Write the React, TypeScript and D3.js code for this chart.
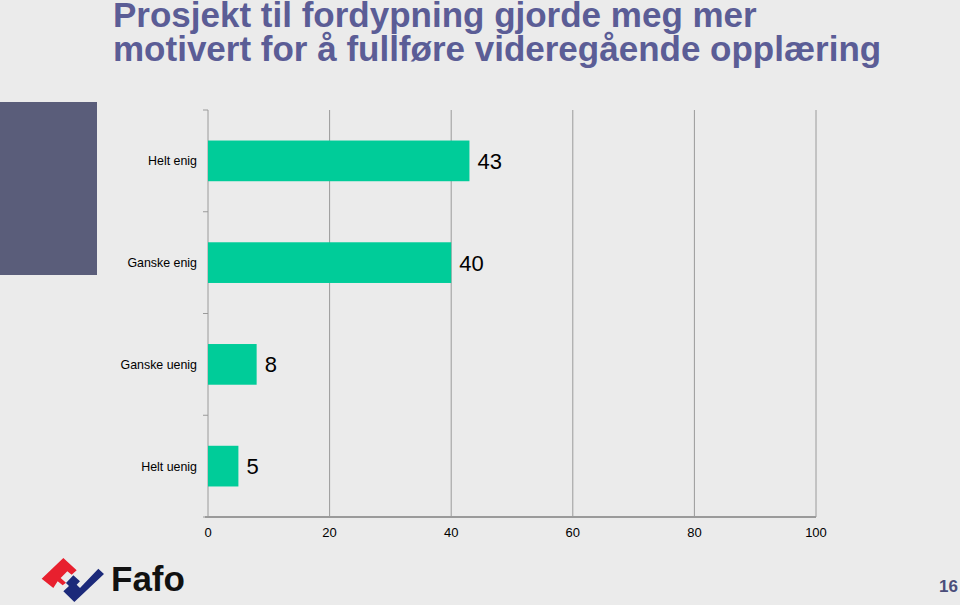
import React from "react";
import * as d3 from "d3";

const categories = ["Helt enig", "Ganske enig", "Ganske uenig", "Helt uenig"];
const values = [43, 40, 8, 5];
const xTicks = [0, 20, 40, 60, 80, 100];
const titleLines = ["Prosjekt til fordypning gjorde meg mer", "motivert for å fullføre videregående opplæring"];

const W = 960, H = 605;
const left = 208, right = 816, top = 110, bottom = 517;

export default function App() {
  const x = d3.scaleLinear().domain([0, 100]).range([left, right]);
  const y = d3.scaleBand().domain(categories).range([top, bottom]).paddingInner(0.6).paddingOuter(0.3);
  const bandEdges = d3.range(categories.length + 1).map(i => top + (i * (bottom - top)) / categories.length);
  const font = "'Liberation Sans', Arial, sans-serif";
  return (
    <svg width={W} height={H} style={{ position: "absolute", left: 0, top: 0 }} fontFamily={font}>
      <rect width={W} height={H} fill="#ebebeb" />
      <rect x={0} y={102} width={97} height={173} fill="#5a5d7a" />
      {titleLines.map((t, i) => (
        <text key={i} x={113} y={27 + i * 34} fontSize={35} fontWeight="bold" fill="#5b5d96">{t}</text>
      ))}
      {xTicks.slice(1).map(t => (
        <line key={t} x1={x(t)} x2={x(t)} y1={top} y2={bottom} stroke="#9a9a9a" strokeWidth={1} />
      ))}
      <line x1={left} x2={left} y1={top} y2={bottom} stroke="#9a9a9a" strokeWidth={1} />
      {bandEdges.map((e, i) => (
        <line key={i} x1={left - 5} x2={left} y1={e} y2={e} stroke="#9a9a9a" />
      ))}
      <line x1={left - 3} x2={right} y1={bottom} y2={bottom} stroke="#9a9a9a" strokeWidth={2} />
      {xTicks.map(t => (
        <text key={t} x={x(t)} y={537} fontSize={13} textAnchor="middle" fill="#000">{t}</text>
      ))}
      {categories.map((c, i) => (
        <g key={c}>
          <rect x={x(0)} y={y(c)} width={x(values[i]) - x(0)} height={y.bandwidth()} fill="#00cc99" />
          <text x={197} y={y(c)! + y.bandwidth() / 2 + 4.5} fontSize={12.4} textAnchor="end" fill="#000">{c}</text>
          <text x={x(values[i]) + 8} y={y(c)! + y.bandwidth() / 2 + 8} fontSize={22} fill="#000">{values[i]}</text>
        </g>
      ))}
      <g transform="translate(30,552) scale(0.3333)">
        <polygon points="35,80 100,18 140,55 125,68 112,58 92,78 108,92 98,100 83,88 70,108" fill="#e8202e" />
        <polygon points="100,118 117,102 108,93 130,70 150,88 140,98 150,108 205,50 222,66 133,150" fill="#1c2a7a" />
      </g>
      <text x={111} y={591} fontSize={35} fontWeight="bold" fill="#111">Fafo</text>
      <text x={958} y={592} fontSize={17} fontWeight="bold" textAnchor="end" fill="#4a4d7a">16</text>
    </svg>
  );
}
